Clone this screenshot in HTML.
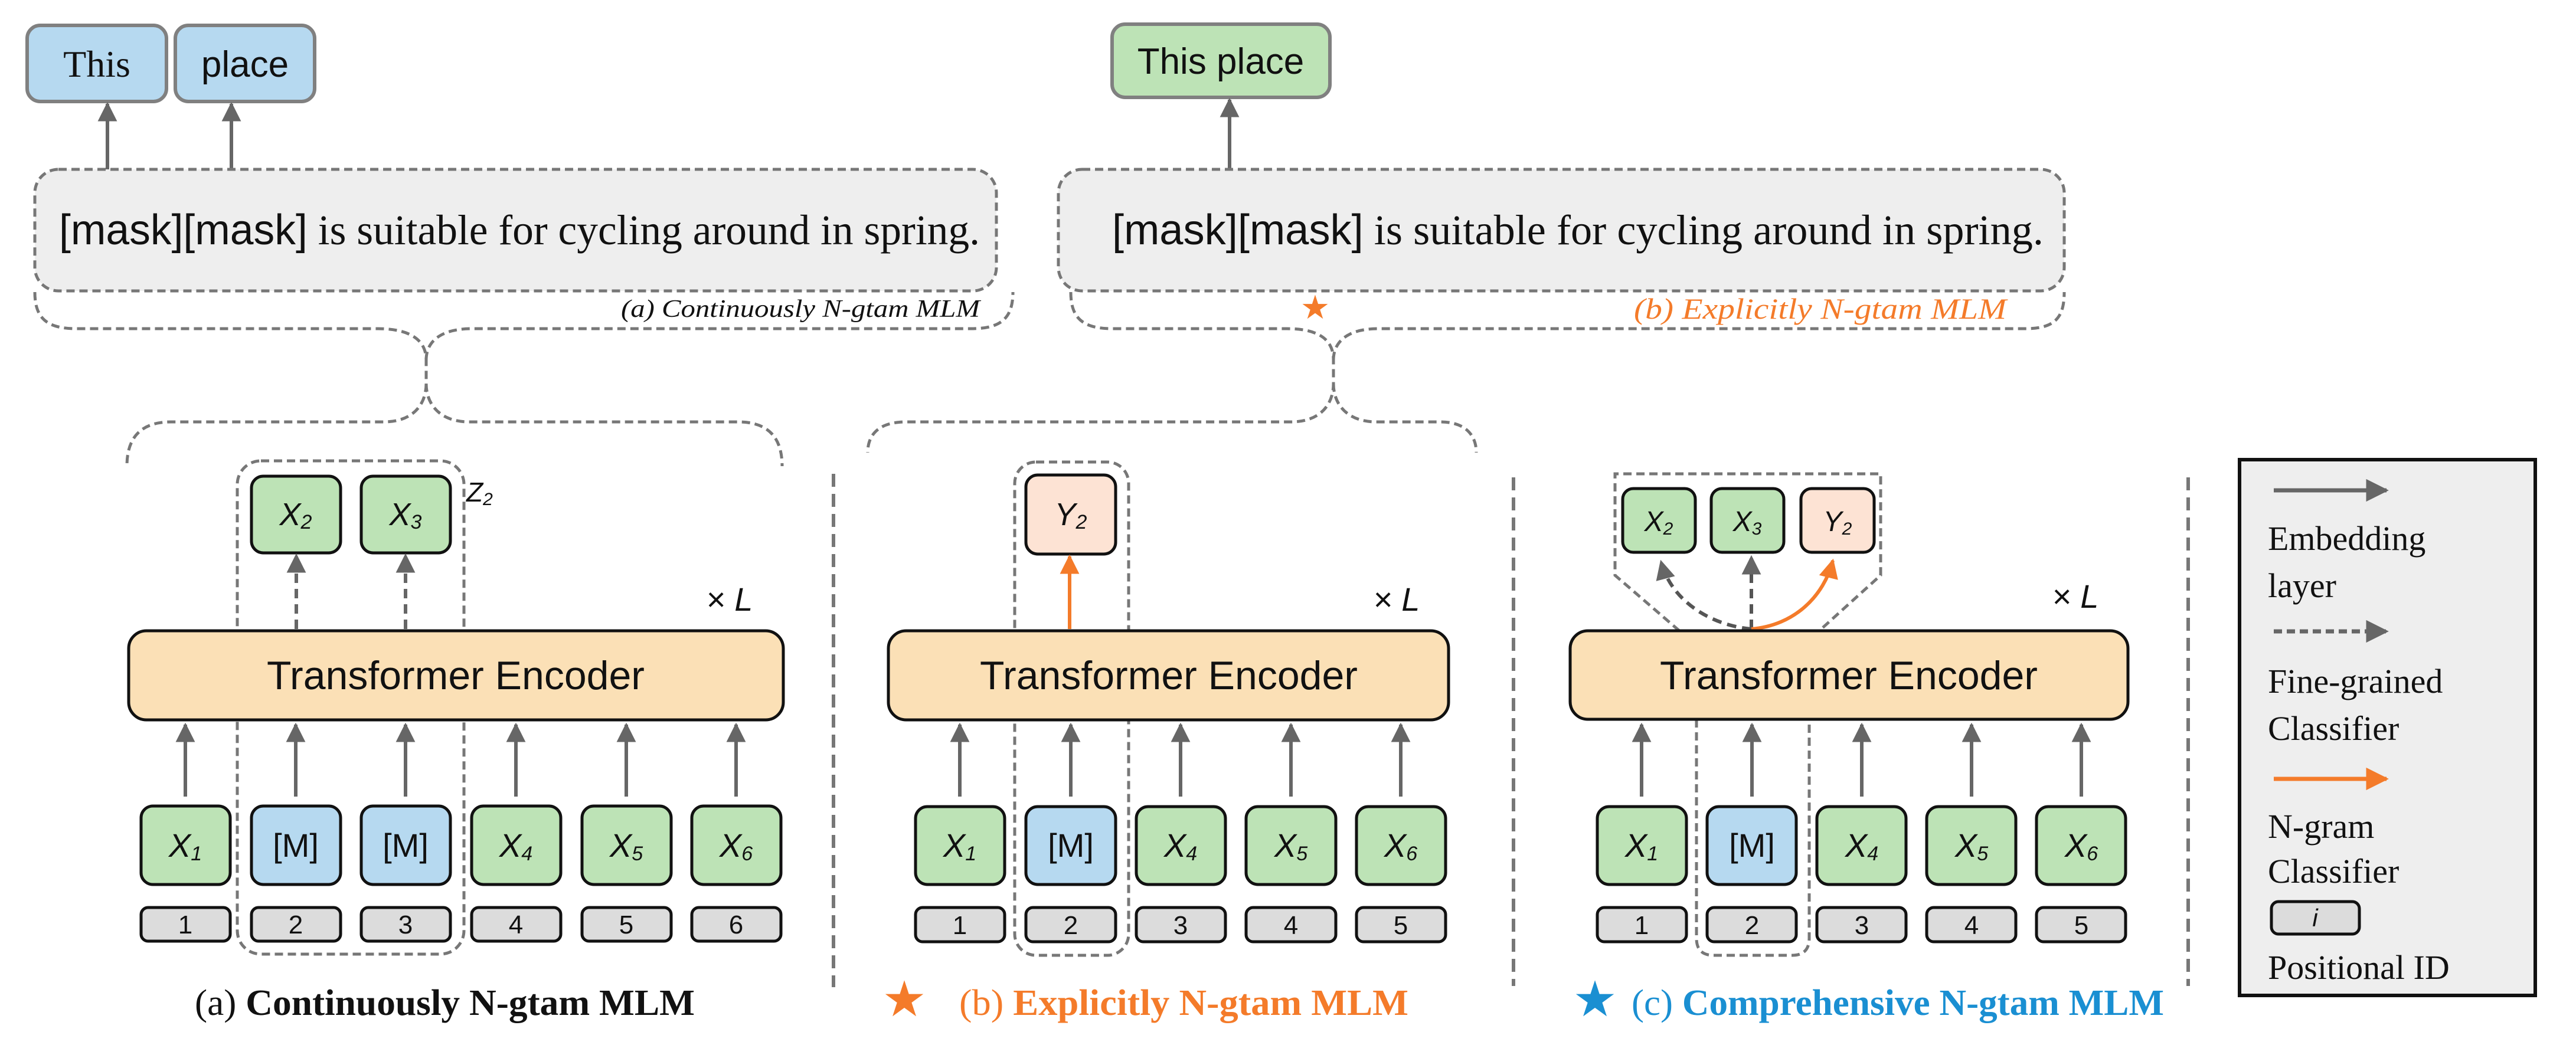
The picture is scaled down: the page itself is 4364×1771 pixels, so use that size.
<!DOCTYPE html>
<html><head><meta charset="utf-8"><style>
html,body{margin:0;padding:0;background:#fff;}
svg{display:block;}
.sans{font-family:"Liberation Sans",sans-serif;}
.serif{font-family:"Liberation Serif",serif;}
</style></head><body>
<svg width="4364" height="1771" viewBox="0 0 4364 1771" xmlns="http://www.w3.org/2000/svg">
<defs>
<marker id="ag" viewBox="0 0 10 10" refX="9" refY="5" markerWidth="5.5" markerHeight="5.5" orient="auto"><path d="M0 0 L10 5 L0 10 z" fill="#666"/></marker>
<marker id="ao" viewBox="0 0 10 10" refX="9" refY="5" markerWidth="5.5" markerHeight="5.5" orient="auto"><path d="M0 0 L10 5 L0 10 z" fill="#f47b2a"/></marker>
</defs>

<!-- TOP (a) -->
<rect x="46" y="43" width="236" height="129" rx="22" fill="#b6d9f0" stroke="#808080" stroke-width="6"/>
<text x="164" y="130" text-anchor="middle" class="serif" font-size="64" fill="#111">This</text>
<rect x="297" y="43" width="236" height="129" rx="22" fill="#b6d9f0" stroke="#808080" stroke-width="6"/>
<text x="415" y="130" text-anchor="middle" class="sans" font-size="62" fill="#111">place</text>
<line x1="182" y1="287" x2="182" y2="176" stroke="#666" stroke-width="6" marker-end="url(#ag)"/>
<line x1="392" y1="287" x2="392" y2="176" stroke="#666" stroke-width="6" marker-end="url(#ag)"/>
<rect x="59" y="287" width="1629" height="206" rx="40" fill="#eeeeee" stroke="#777" stroke-width="5" stroke-dasharray="14 8"/>
<text x="100" y="414" font-size="72" fill="#111" textLength="1560" lengthAdjust="spacingAndGlyphs"><tspan class="sans">[mask][mask]</tspan><tspan class="serif"> is suitable for cycling around in spring.</tspan></text>
<text x="1052" y="537" class="serif" font-style="italic" font-size="42" fill="#111" textLength="608" lengthAdjust="spacingAndGlyphs">(a)  Continuously N-gtam MLM</text>
<g fill="none" stroke="#777" stroke-width="5" stroke-dasharray="14 8">
<path d="M59 495 C59 540 80 557 130 557 L640 557 C700 557 722 580 722 610 L722 650 C722 685 700 715 650 715 L290 715 C240 715 215 740 215 790"/>
<path d="M722 610 C722 580 745 557 800 557 L1645 557 C1695 557 1716 540 1716 495"/>
<path d="M722 650 C722 685 745 715 795 715 L1250 715 C1300 715 1325 740 1325 790"/>
</g>

<!-- TOP (b) -->
<rect x="1884" y="41" width="369" height="124" rx="22" fill="#bde3b6" stroke="#808080" stroke-width="6"/>
<text x="2068" y="125" text-anchor="middle" class="sans" font-size="62" fill="#111">This place</text>
<line x1="2083" y1="287" x2="2083" y2="169" stroke="#666" stroke-width="6" marker-end="url(#ag)"/>
<rect x="1793" y="287" width="1704" height="206" rx="40" fill="#eeeeee" stroke="#777" stroke-width="5" stroke-dasharray="14 8"/>
<text x="1884" y="414" font-size="72" fill="#111" textLength="1578" lengthAdjust="spacingAndGlyphs"><tspan class="sans">[mask][mask]</tspan><tspan class="serif"> is suitable for cycling around in spring.</tspan></text>
<text x="2228" y="540" text-anchor="middle" font-size="56" fill="#f47b2a" class="sans">★</text>
<text x="2768" y="540" class="serif" font-style="italic" font-size="50" fill="#f47b2a" textLength="631" lengthAdjust="spacingAndGlyphs">(b)  Explicitly N-gtam MLM</text>
<g fill="none" stroke="#777" stroke-width="5" stroke-dasharray="14 8">
<path d="M1814 495 C1814 540 1835 557 1885 557 L2180 557 C2240 557 2259 580 2259 610 L2259 650 C2259 685 2237 715 2187 715 L1535 715 C1485 715 1470 740 1470 767"/>
<path d="M2259 610 C2259 580 2282 557 2335 557 L3430 557 C3480 557 3497 540 3497 495"/>
<path d="M2259 650 C2259 685 2282 715 2332 715 L2440 715 C2485 715 2501 740 2501 767"/>
</g>

<!-- dividers -->
<g stroke="#777" stroke-width="6" stroke-dasharray="22 12">
<line x1="1412" y1="803" x2="1412" y2="1673"/>
<line x1="2564" y1="809" x2="2564" y2="1671"/>
<line x1="3707" y1="809" x2="3707" y2="1671"/>
</g>

<!-- PANEL A -->
<rect x="402" y="781" width="384" height="836" rx="40" fill="none" stroke="#777" stroke-width="5" stroke-dasharray="14 8"/>
<text x="790" y="850" class="sans" font-style="italic" font-size="46" fill="#111">Z<tspan font-size="30" dy="6">2</tspan></text>
<rect x="426" y="807" width="151" height="130" rx="20" fill="#bde3b6" stroke="#111" stroke-width="5"/>
<text x="501" y="890" text-anchor="middle" class="sans" font-style="italic" font-size="54" fill="#111">X<tspan font-size="34" dy="6">2</tspan></text>
<rect x="612" y="807" width="151" height="130" rx="20" fill="#bde3b6" stroke="#111" stroke-width="5"/>
<text x="687" y="890" text-anchor="middle" class="sans" font-style="italic" font-size="54" fill="#111">X<tspan font-size="34" dy="6">3</tspan></text>
<line x1="502" y1="1066" x2="502" y2="941" stroke="#666" stroke-width="6" stroke-dasharray="16 10" marker-end="url(#ag)"/>
<line x1="687" y1="1066" x2="687" y2="941" stroke="#666" stroke-width="6" stroke-dasharray="16 10" marker-end="url(#ag)"/>
<text x="1196" y="1035" class="sans" font-style="italic" font-size="56" fill="#111">× L</text>
<rect x="218" y="1069" width="1109" height="151" rx="30" fill="#fbe0b6" stroke="#111" stroke-width="5"/>
<text x="772" y="1168" text-anchor="middle" class="sans" font-size="68" fill="#111">Transformer Encoder</text>
<g stroke="#666" stroke-width="6" marker-end="url(#ag)">
<line x1="314" y1="1350" x2="314" y2="1228"/><line x1="501" y1="1350" x2="501" y2="1228"/><line x1="687" y1="1350" x2="687" y2="1228"/>
<line x1="874" y1="1350" x2="874" y2="1228"/><line x1="1061" y1="1350" x2="1061" y2="1228"/><line x1="1247" y1="1350" x2="1247" y2="1228"/>
</g>
<g stroke="#111" stroke-width="5">
<rect x="239" y="1366" width="151" height="133" rx="20" fill="#bde3b6"/>
<rect x="426" y="1366" width="151" height="133" rx="20" fill="#b6d9f0"/>
<rect x="612" y="1366" width="151" height="133" rx="20" fill="#b6d9f0"/>
<rect x="799" y="1366" width="151" height="133" rx="20" fill="#bde3b6"/>
<rect x="986" y="1366" width="151" height="133" rx="20" fill="#bde3b6"/>
<rect x="1172" y="1366" width="151" height="133" rx="20" fill="#bde3b6"/>
<rect x="239" y="1538" width="151" height="57" rx="12" fill="#dcdcdc"/>
<rect x="426" y="1538" width="151" height="57" rx="12" fill="#dcdcdc"/>
<rect x="612" y="1538" width="151" height="57" rx="12" fill="#dcdcdc"/>
<rect x="799" y="1538" width="151" height="57" rx="12" fill="#dcdcdc"/>
<rect x="986" y="1538" width="151" height="57" rx="12" fill="#dcdcdc"/>
<rect x="1172" y="1538" width="151" height="57" rx="12" fill="#dcdcdc"/>
</g>
<g class="sans" font-size="56" fill="#111" text-anchor="middle">
<text x="314" y="1452" font-style="italic">X<tspan font-size="34" dy="6">1</tspan></text>
<text x="501" y="1452">[M]</text>
<text x="687" y="1452">[M]</text>
<text x="874" y="1452" font-style="italic">X<tspan font-size="34" dy="6">4</tspan></text>
<text x="1061" y="1452" font-style="italic">X<tspan font-size="34" dy="6">5</tspan></text>
<text x="1247" y="1452" font-style="italic">X<tspan font-size="34" dy="6">6</tspan></text>
</g>
<g class="sans" font-size="44" fill="#111" text-anchor="middle">
<text x="314" y="1582">1</text><text x="501" y="1582">2</text><text x="687" y="1582">3</text><text x="874" y="1582">4</text><text x="1061" y="1582">5</text><text x="1247" y="1582">6</text>
</g>
<text x="330" y="1720" class="serif" font-weight="bold" font-size="62" fill="#111" textLength="847" lengthAdjust="spacingAndGlyphs"><tspan font-weight="normal">(a)</tspan>  Continuously N-gtam MLM</text>

<!-- PANEL B -->
<rect x="1719" y="783" width="193" height="836" rx="36" fill="none" stroke="#777" stroke-width="5" stroke-dasharray="14 8"/>
<rect x="1738" y="805" width="152" height="134" rx="20" fill="#fde3d4" stroke="#111" stroke-width="5"/>
<text x="1814" y="890" text-anchor="middle" class="sans" font-style="italic" font-size="54" fill="#111">Y<tspan font-size="34" dy="6">2</tspan></text>
<line x1="1812" y1="1066" x2="1812" y2="943" stroke="#f47b2a" stroke-width="6" marker-end="url(#ao)"/>
<text x="2326" y="1035" class="sans" font-style="italic" font-size="56" fill="#111">× L</text>
<rect x="1505" y="1069" width="949" height="151" rx="30" fill="#fbe0b6" stroke="#111" stroke-width="5"/>
<text x="1980" y="1168" text-anchor="middle" class="sans" font-size="68" fill="#111">Transformer Encoder</text>
<g stroke="#666" stroke-width="6" marker-end="url(#ag)">
<line x1="1626" y1="1350" x2="1626" y2="1228"/><line x1="1814" y1="1350" x2="1814" y2="1228"/><line x1="2000" y1="1350" x2="2000" y2="1228"/>
<line x1="2187" y1="1350" x2="2187" y2="1228"/><line x1="2373" y1="1350" x2="2373" y2="1228"/>
</g>
<g stroke="#111" stroke-width="5">
<rect x="1551" y="1367" width="151" height="132" rx="20" fill="#bde3b6"/>
<rect x="1738" y="1367" width="152" height="132" rx="20" fill="#b6d9f0"/>
<rect x="1925" y="1367" width="151" height="132" rx="20" fill="#bde3b6"/>
<rect x="2111" y="1367" width="152" height="132" rx="20" fill="#bde3b6"/>
<rect x="2298" y="1367" width="151" height="132" rx="20" fill="#bde3b6"/>
<rect x="1551" y="1538" width="151" height="58" rx="12" fill="#dcdcdc"/>
<rect x="1738" y="1538" width="152" height="58" rx="12" fill="#dcdcdc"/>
<rect x="1925" y="1538" width="151" height="58" rx="12" fill="#dcdcdc"/>
<rect x="2111" y="1538" width="152" height="58" rx="12" fill="#dcdcdc"/>
<rect x="2298" y="1538" width="151" height="58" rx="12" fill="#dcdcdc"/>
</g>
<g class="sans" font-size="56" fill="#111" text-anchor="middle">
<text x="1626" y="1452" font-style="italic">X<tspan font-size="34" dy="6">1</tspan></text>
<text x="1814" y="1452">[M]</text>
<text x="2000" y="1452" font-style="italic">X<tspan font-size="34" dy="6">4</tspan></text>
<text x="2187" y="1452" font-style="italic">X<tspan font-size="34" dy="6">5</tspan></text>
<text x="2373" y="1452" font-style="italic">X<tspan font-size="34" dy="6">6</tspan></text>
</g>
<g class="sans" font-size="44" fill="#111" text-anchor="middle">
<text x="1626" y="1583">1</text><text x="1814" y="1583">2</text><text x="2000" y="1583">3</text><text x="2187" y="1583">4</text><text x="2373" y="1583">5</text>
</g>
<text x="1532" y="1722" text-anchor="middle" class="sans" font-size="84" fill="#f47b2a">★</text>
<text x="1625" y="1720" class="serif" font-weight="bold" font-size="62" fill="#f47b2a" textLength="761" lengthAdjust="spacingAndGlyphs"><tspan font-weight="normal">(b)</tspan>  Explicitly N-gtam MLM</text>

<!-- PANEL C -->
<path d="M2845 1069 L2736 975 L2736 803 L3186 803 L3186 975 L3082 1069" fill="none" stroke="#777" stroke-width="5" stroke-dasharray="14 8"/>
<path d="M2874 1219 L2874 1590 Q2874 1619 2903 1619 L3036 1619 Q3065 1619 3065 1590 L3065 1219" fill="none" stroke="#777" stroke-width="5" stroke-dasharray="14 8"/>
<rect x="2749" y="828" width="123" height="108" rx="18" fill="#bde3b6" stroke="#111" stroke-width="5"/>
<text x="2810" y="900" text-anchor="middle" class="sans" font-style="italic" font-size="48" fill="#111">X<tspan font-size="30" dy="6">2</tspan></text>
<rect x="2899" y="828" width="123" height="108" rx="18" fill="#bde3b6" stroke="#111" stroke-width="5"/>
<text x="2960" y="900" text-anchor="middle" class="sans" font-style="italic" font-size="48" fill="#111">X<tspan font-size="30" dy="6">3</tspan></text>
<rect x="3051" y="828" width="124" height="108" rx="18" fill="#fde3d4" stroke="#111" stroke-width="5"/>
<text x="3113" y="900" text-anchor="middle" class="sans" font-style="italic" font-size="48" fill="#111">Y<tspan font-size="30" dy="6">2</tspan></text>
<path d="M2967 1066 C2900 1060 2832 1020 2814 952" fill="none" stroke="#555" stroke-width="6" stroke-dasharray="16 10" marker-end="url(#ag)"/>
<line x1="2967" y1="1066" x2="2967" y2="944" stroke="#555" stroke-width="6" stroke-dasharray="16 10" marker-end="url(#ag)"/>
<path d="M2967 1066 C3040 1060 3090 1010 3105 950" fill="none" stroke="#f47b2a" stroke-width="6" marker-end="url(#ao)"/>
<text x="3476" y="1030" class="sans" font-style="italic" font-size="56" fill="#111">× L</text>
<rect x="2660" y="1069" width="945" height="150" rx="30" fill="#fbe0b6" stroke="#111" stroke-width="5"/>
<text x="3132" y="1168" text-anchor="middle" class="sans" font-size="68" fill="#111">Transformer Encoder</text>
<g stroke="#666" stroke-width="6" marker-end="url(#ag)">
<line x1="2781" y1="1350" x2="2781" y2="1228"/><line x1="2968" y1="1350" x2="2968" y2="1228"/><line x1="3154" y1="1350" x2="3154" y2="1228"/>
<line x1="3340" y1="1350" x2="3340" y2="1228"/><line x1="3526" y1="1350" x2="3526" y2="1228"/>
</g>
<g stroke="#111" stroke-width="5">
<rect x="2706" y="1367" width="151" height="132" rx="20" fill="#bde3b6"/>
<rect x="2892" y="1367" width="151" height="132" rx="20" fill="#b6d9f0"/>
<rect x="3078" y="1367" width="151" height="132" rx="20" fill="#bde3b6"/>
<rect x="3264" y="1367" width="151" height="132" rx="20" fill="#bde3b6"/>
<rect x="3450" y="1367" width="151" height="132" rx="20" fill="#bde3b6"/>
<rect x="2706" y="1538" width="151" height="58" rx="12" fill="#dcdcdc"/>
<rect x="2892" y="1538" width="151" height="58" rx="12" fill="#dcdcdc"/>
<rect x="3078" y="1538" width="151" height="58" rx="12" fill="#dcdcdc"/>
<rect x="3264" y="1538" width="151" height="58" rx="12" fill="#dcdcdc"/>
<rect x="3450" y="1538" width="151" height="58" rx="12" fill="#dcdcdc"/>
</g>
<g class="sans" font-size="56" fill="#111" text-anchor="middle">
<text x="2781" y="1452" font-style="italic">X<tspan font-size="34" dy="6">1</tspan></text>
<text x="2968" y="1452">[M]</text>
<text x="3154" y="1452" font-style="italic">X<tspan font-size="34" dy="6">4</tspan></text>
<text x="3340" y="1452" font-style="italic">X<tspan font-size="34" dy="6">5</tspan></text>
<text x="3526" y="1452" font-style="italic">X<tspan font-size="34" dy="6">6</tspan></text>
</g>
<g class="sans" font-size="44" fill="#111" text-anchor="middle">
<text x="2781" y="1583">1</text><text x="2968" y="1583">2</text><text x="3154" y="1583">3</text><text x="3340" y="1583">4</text><text x="3526" y="1583">5</text>
</g>
<text x="2702" y="1722" text-anchor="middle" class="sans" font-size="84" fill="#1a8fd2">★</text>
<text x="2764" y="1720" class="serif" font-weight="bold" font-size="62" fill="#1a8fd2" textLength="902" lengthAdjust="spacingAndGlyphs"><tspan font-weight="normal">(c)</tspan>  Comprehensive N-gtam MLM</text>

<!-- LEGEND -->
<rect x="3794" y="779" width="501" height="908" fill="#eeeeee" stroke="#111" stroke-width="6"/>
<line x1="3852" y1="831" x2="4043" y2="831" stroke="#666" stroke-width="7" marker-end="url(#ag)"/>
<line x1="3852" y1="1070" x2="4043" y2="1070" stroke="#666" stroke-width="7" stroke-dasharray="14 8" marker-end="url(#ag)"/>
<line x1="3852" y1="1320" x2="4043" y2="1320" stroke="#f47b2a" stroke-width="7" marker-end="url(#ao)"/>
<g class="serif" font-size="58" fill="#111">
<text x="3842" y="932">Embedding</text>
<text x="3842" y="1012">layer</text>
<text x="3842" y="1174">Fine-grained</text>
<text x="3842" y="1254">Classifier</text>
<text x="3842" y="1420">N-gram</text>
<text x="3842" y="1496">Classifier</text>
<text x="3842" y="1659">Positional ID</text>
</g>
<rect x="3848" y="1528" width="149" height="55" rx="12" fill="#dcdcdc" stroke="#111" stroke-width="5"/>
<text x="3922" y="1570" text-anchor="middle" class="sans" font-style="italic" font-size="42" fill="#111">i</text>
</svg>
</body></html>
